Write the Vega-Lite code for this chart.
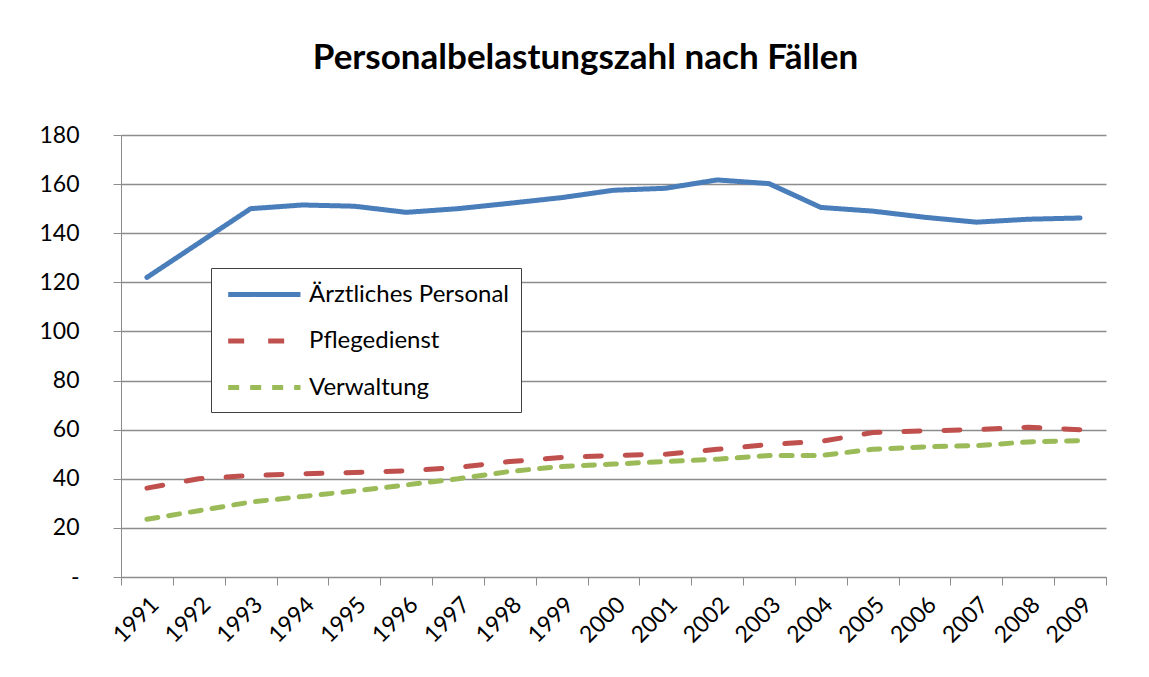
{
  "$schema": "https://vega.github.io/schema/vega-lite/v6.json",
  "width": 985,
  "height": 442,
  "autosize": {"type": "none"},
  "padding": {"left": 121, "top": 135, "right": 43, "bottom": 100},
  "background": "white",
  "title": {
    "text": "Personalbelastungszahl nach Fällen",
    "font": "Lato",
    "fontSize": 35,
    "fontWeight": "bold",
    "color": "#000000",
    "anchor": "middle",
    "dx": -28,
    "offset": 48
  },
  "data": {
    "values": [
      {"year": "1991", "series": "Ärztliches Personal", "value": 122},
      {"year": "1992", "series": "Ärztliches Personal", "value": 136},
      {"year": "1993", "series": "Ärztliches Personal", "value": 150},
      {"year": "1994", "series": "Ärztliches Personal", "value": 151.5},
      {"year": "1995", "series": "Ärztliches Personal", "value": 151},
      {"year": "1996", "series": "Ärztliches Personal", "value": 148.5},
      {"year": "1997", "series": "Ärztliches Personal", "value": 150},
      {"year": "1998", "series": "Ärztliches Personal", "value": 152.2},
      {"year": "1999", "series": "Ärztliches Personal", "value": 154.5},
      {"year": "2000", "series": "Ärztliches Personal", "value": 157.5},
      {"year": "2001", "series": "Ärztliches Personal", "value": 158.3},
      {"year": "2002", "series": "Ärztliches Personal", "value": 161.7},
      {"year": "2003", "series": "Ärztliches Personal", "value": 160.2},
      {"year": "2004", "series": "Ärztliches Personal", "value": 150.5},
      {"year": "2005", "series": "Ärztliches Personal", "value": 149},
      {"year": "2006", "series": "Ärztliches Personal", "value": 146.5},
      {"year": "2007", "series": "Ärztliches Personal", "value": 144.5},
      {"year": "2008", "series": "Ärztliches Personal", "value": 145.7},
      {"year": "2009", "series": "Ärztliches Personal", "value": 146.2},
      {"year": "1991", "series": "Pflegedienst", "value": 36.2},
      {"year": "1992", "series": "Pflegedienst", "value": 40},
      {"year": "1993", "series": "Pflegedienst", "value": 41.3},
      {"year": "1994", "series": "Pflegedienst", "value": 42},
      {"year": "1995", "series": "Pflegedienst", "value": 42.6},
      {"year": "1996", "series": "Pflegedienst", "value": 43.2},
      {"year": "1997", "series": "Pflegedienst", "value": 44.7},
      {"year": "1998", "series": "Pflegedienst", "value": 47},
      {"year": "1999", "series": "Pflegedienst", "value": 48.7},
      {"year": "2000", "series": "Pflegedienst", "value": 49.5},
      {"year": "2001", "series": "Pflegedienst", "value": 50},
      {"year": "2002", "series": "Pflegedienst", "value": 52},
      {"year": "2003", "series": "Pflegedienst", "value": 54},
      {"year": "2004", "series": "Pflegedienst", "value": 55.2},
      {"year": "2005", "series": "Pflegedienst", "value": 58.8},
      {"year": "2006", "series": "Pflegedienst", "value": 59.5},
      {"year": "2007", "series": "Pflegedienst", "value": 60},
      {"year": "2008", "series": "Pflegedienst", "value": 61},
      {"year": "2009", "series": "Pflegedienst", "value": 60},
      {"year": "1991", "series": "Verwaltung", "value": 23.5},
      {"year": "1992", "series": "Verwaltung", "value": 27},
      {"year": "1993", "series": "Verwaltung", "value": 30.5},
      {"year": "1994", "series": "Verwaltung", "value": 32.8},
      {"year": "1995", "series": "Verwaltung", "value": 35},
      {"year": "1996", "series": "Verwaltung", "value": 37.5},
      {"year": "1997", "series": "Verwaltung", "value": 40},
      {"year": "1998", "series": "Verwaltung", "value": 43},
      {"year": "1999", "series": "Verwaltung", "value": 45},
      {"year": "2000", "series": "Verwaltung", "value": 46},
      {"year": "2001", "series": "Verwaltung", "value": 47},
      {"year": "2002", "series": "Verwaltung", "value": 48},
      {"year": "2003", "series": "Verwaltung", "value": 49.5},
      {"year": "2004", "series": "Verwaltung", "value": 49.5},
      {"year": "2005", "series": "Verwaltung", "value": 52},
      {"year": "2006", "series": "Verwaltung", "value": 53},
      {"year": "2007", "series": "Verwaltung", "value": 53.5},
      {"year": "2008", "series": "Verwaltung", "value": 55},
      {"year": "2009", "series": "Verwaltung", "value": 55.5}
    ]
  },
  "mark": {"type": "line", "strokeWidth": 5, "strokeCap": "round", "strokeJoin": "round"},
  "encoding": {
    "x": {
      "field": "year",
      "type": "ordinal",
      "title": null,
      "scale": {"type": "band", "paddingInner": 0, "paddingOuter": 0},
      "axis": {
        "tickBand": "extent",
        "labelAngle": -45,
        "labelFont": "Lato",
        "labelFontSize": 23,
        "labelColor": "#000000",
        "labelPadding": 8,
        "tickSize": 8,
        "tickColor": "#8c8c8c",
        "domainColor": "#8c8c8c",
        "grid": false
      }
    },
    "y": {
      "field": "value",
      "type": "quantitative",
      "title": null,
      "scale": {"domain": [0, 180], "nice": false},
      "axis": {
        "values": [0, 20, 40, 60, 80, 100, 120, 140, 160, 180],
        "labelExpr": "datum.value == 0 ? '-' : datum.label",
        "labelFont": "Lato",
        "labelFontSize": 23,
        "labelColor": "#000000",
        "labelPadding": 34,
        "tickSize": 8,
        "tickColor": "#8c8c8c",
        "domainColor": "#8c8c8c",
        "grid": true,
        "gridColor": "#8c8c8c",
        "gridWidth": 1.3
      }
    },
    "color": {
      "field": "series",
      "type": "nominal",
      "sort": ["Ärztliches Personal", "Pflegedienst", "Verwaltung"],
      "scale": {
        "domain": ["Ärztliches Personal", "Pflegedienst", "Verwaltung"],
        "range": ["#4A7EBB", "#C0504D", "#9BBB59"]
      },
      "legend": {
        "title": null,
        "orient": "none",
        "legendX": 90,
        "legendY": 133,
        "symbolType": "M-0.8,0H5.4",
        "symbolSize": 544,
        "symbolStrokeWidth": 5,
        "labelFont": "Lato",
        "labelFontSize": 24,
        "labelColor": "#000000",
        "labelLimit": 400,
        "labelOffset": 57,
        "rowPadding": 19.5,
        "padding": 12,
        "strokeColor": "#404040",
        "fillColor": "#ffffff",
        "cornerRadius": 0
      }
    },
    "strokeDash": {
      "field": "series",
      "type": "nominal",
      "sort": ["Ärztliches Personal", "Pflegedienst", "Verwaltung"],
      "scale": {
        "domain": ["Ärztliches Personal", "Pflegedienst", "Verwaltung"],
        "range": [[1, 0], [16, 24], [11, 11]]
      },
      "legend": {
        "title": null,
        "orient": "none",
        "legendX": 90,
        "legendY": 133,
        "symbolType": "M-0.8,0H5.4",
        "symbolSize": 544,
        "symbolStrokeWidth": 5,
        "labelFont": "Lato",
        "labelFontSize": 24,
        "labelColor": "#000000",
        "labelLimit": 400,
        "labelOffset": 57,
        "rowPadding": 19.5,
        "padding": 12,
        "strokeColor": "#404040",
        "fillColor": "#ffffff",
        "cornerRadius": 0
      }
    }
  },
  "config": {
    "view": {"stroke": null}
  }
}
